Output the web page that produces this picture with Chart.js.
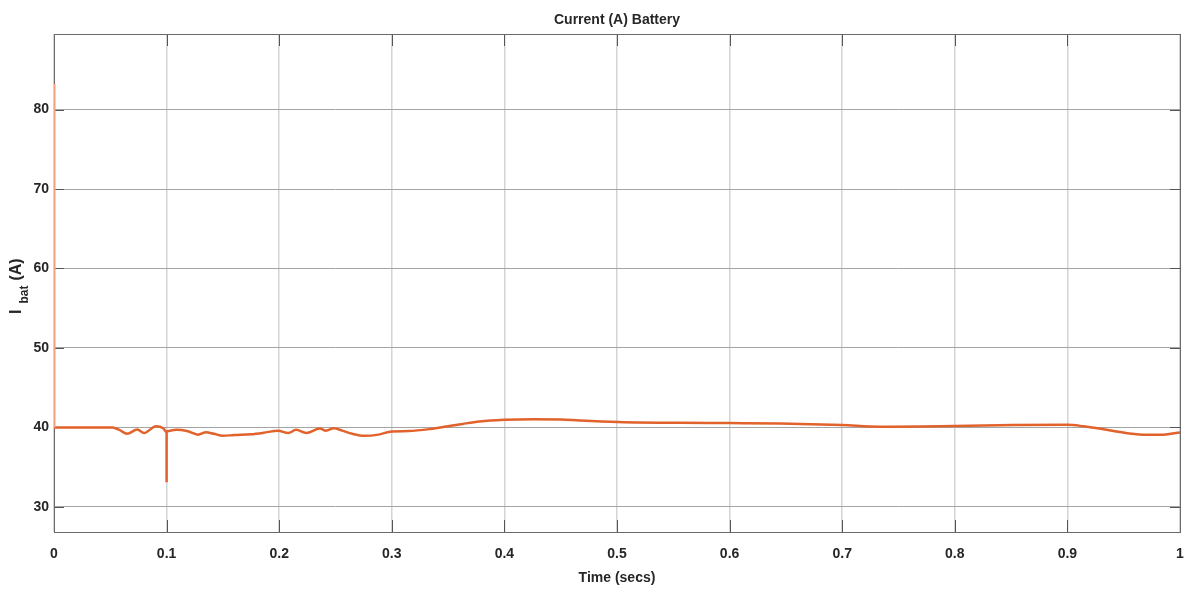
<!DOCTYPE html>
<html>
<head>
<meta charset="utf-8">
<title>Current (A) Battery</title>
<script src="https://cdn.jsdelivr.net/npm/chart.js@4/dist/chart.umd.min.js"></script>
<style>
    body { margin: 0; background: #fff; }
    canvas { display: block; }
</style>
</head>
<body>
<canvas id="batChart" width="1195" height="590"></canvas>
<script>
// Battery current vs simulation time
const timeSecs = [0, 0.052, 0.058, 0.065, 0.074, 0.080, 0.0906, 0.097, 0.1, 0.1, 0.1, 0.103, 0.109, 0.118, 0.128,
    0.135, 0.142, 0.150, 0.160, 0.175, 0.186, 0.199, 0.208, 0.215, 0.224, 0.236, 0.2416, 0.2487, 0.256, 0.265,
    0.276, 0.288, 0.300, 0.315, 0.334, 0.350, 0.363, 0.378, 0.40, 0.425, 0.45, 0.467, 0.501, 0.556, 0.600,
    0.645, 0.70, 0.733, 0.77, 0.80, 0.852, 0.9, 0.914, 0.927, 0.94, 0.955, 0.97, 0.985, 1.0];
const iBat = [40, 40, 39.7, 39.2, 39.75, 39.3, 40.15, 39.9, 39.4, 33.1, 39.5, 39.6, 39.7, 39.55, 39.1,
    39.4, 39.2, 38.95, 39.05, 39.15, 39.33, 39.6, 39.3, 39.7, 39.3, 39.87, 39.6, 39.9, 39.6, 39.2,
    38.95, 39.1, 39.5, 39.55, 39.8, 40.15, 40.45, 40.75, 40.96, 41.05, 41.0, 40.88, 40.7, 40.58, 40.55,
    40.5, 40.3, 40.1, 40.12, 40.2, 40.3, 40.33, 40.16, 39.9, 39.6, 39.25, 39.08, 39.1, 39.37];

// inrush at t = 0
const startTime = [0, 0];
const startCurrent = [40, 83.2];

const xTicks = [0, 0.1, 0.2, 0.3, 0.4, 0.5, 0.6, 0.7, 0.8, 0.9, 1];
const yTicks = [30, 40, 50, 60, 70, 80];

const FONT = "'Liberation Sans Narrow', 'Liberation Sans', Arial, sans-serif";
const TEXT = '#262626';

const toPoints = (xs, ys) => xs.map((x, i) => ({ x, y: ys[i] }));

// frame + inward tick marks, drawn under the trace
const framePlugin = {
    id: 'frame',
    beforeDatasetsDraw(chart) {
        const { ctx, chartArea: a, scales } = chart;
        ctx.save();
        ctx.strokeStyle = '#555';
        ctx.lineWidth = 1;
        ctx.beginPath();
        xTicks.forEach(v => {
            const px = Math.round(scales.x.getPixelForValue(v)) + 0.5;
            ctx.moveTo(px, a.bottom); ctx.lineTo(px, a.bottom - 12);
            ctx.moveTo(px, a.top); ctx.lineTo(px, a.top + 12);
        });
        yTicks.forEach(v => {
            const py = Math.round(scales.y.getPixelForValue(v)) + 0.5;
            ctx.moveTo(a.left, py); ctx.lineTo(a.left + 10, py);
            ctx.moveTo(a.right, py); ctx.lineTo(a.right - 10, py);
        });
        ctx.stroke();
        ctx.strokeStyle = '#6a6a6a';
        ctx.strokeRect(Math.round(a.left) + 0.5, Math.round(a.top) + 0.5,
            Math.round(a.right - a.left), Math.round(a.bottom - a.top));
        ctx.restore();
    }
};

// titles, including the subscripted y label
const labelsPlugin = {
    id: 'labels',
    afterDraw(chart) {
        const { ctx, chartArea: a } = chart;
        const cx = (a.left + a.right) / 2;
        ctx.save();
        ctx.fillStyle = TEXT;
        ctx.textAlign = 'center';
        ctx.textBaseline = 'middle';
        ctx.font = `bold 14px ${FONT}`;
        ctx.fillText('Current (A) Battery', cx, 20);
        ctx.fillText('Time (secs)', cx, 578);

        ctx.translate(21, 314);
        ctx.rotate(-Math.PI / 2);
        ctx.textAlign = 'left';
        ctx.textBaseline = 'alphabetic';
        ctx.font = `bold 16px ${FONT}`;
        ctx.fillText('I', 0, 0);
        let x = ctx.measureText('I').width + 6;
        ctx.font = `bold 12px ${FONT}`;
        ctx.fillText('bat', x, 7);
        x += ctx.measureText('bat').width + 5;
        ctx.font = `bold 16px ${FONT}`;
        ctx.fillText('(A)', x, 0);
        ctx.restore();
    }
};

new Chart(document.getElementById('batChart'), {
    type: 'line',
    data: {
        datasets: [{
            data: toPoints(startTime, startCurrent),
            borderColor: '#f3a07c',
            borderWidth: 3,
            pointRadius: 0,
            tension: 0
        }, {
            data: toPoints(timeSecs, iBat),
            borderColor: '#e2622c',
            borderWidth: 2.5,
            pointRadius: 0,
            cubicInterpolationMode: 'monotone'
        }]
    },
    options: {
        responsive: false,
        animation: false,
        events: [],
        layout: { padding: { top: 34, right: 15, left: 0, bottom: 0 } },
        plugins: {
            legend: { display: false },
            tooltip: { enabled: false }
        },
        scales: {
            x: {
                type: 'linear',
                min: 0,
                max: 1,
                afterBuildTicks: s => { s.ticks = xTicks.map(value => ({ value })); },
                afterFit: s => {
                    s.height = 58;
                    // label padding is already covered by the layout padding
                    s.paddingLeft = 0;
                    s.paddingRight = 0;
                },
                grid: { color: '#d4d4d4', lineWidth: 1.5, drawTicks: false },
                border: { display: false },
                ticks: {
                    padding: 14,
                    maxRotation: 0,
                    color: TEXT,
                    font: { family: FONT, size: 14, weight: 'bold' },
                    callback: v => String(v)
                }
            },
            y: {
                min: 26.85,
                max: 89.5,
                afterBuildTicks: s => { s.ticks = yTicks.map(value => ({ value })); },
                afterFit: s => { s.width = 54; },
                grid: { color: '#a4a4a4', lineWidth: 1, drawTicks: false },
                border: { display: false },
                ticks: {
                    padding: 5,
                    color: TEXT,
                    font: { family: FONT, size: 14, weight: 'bold' }
                }
            }
        }
    },
    plugins: [framePlugin, labelsPlugin]
});
</script>
</body>
</html>
